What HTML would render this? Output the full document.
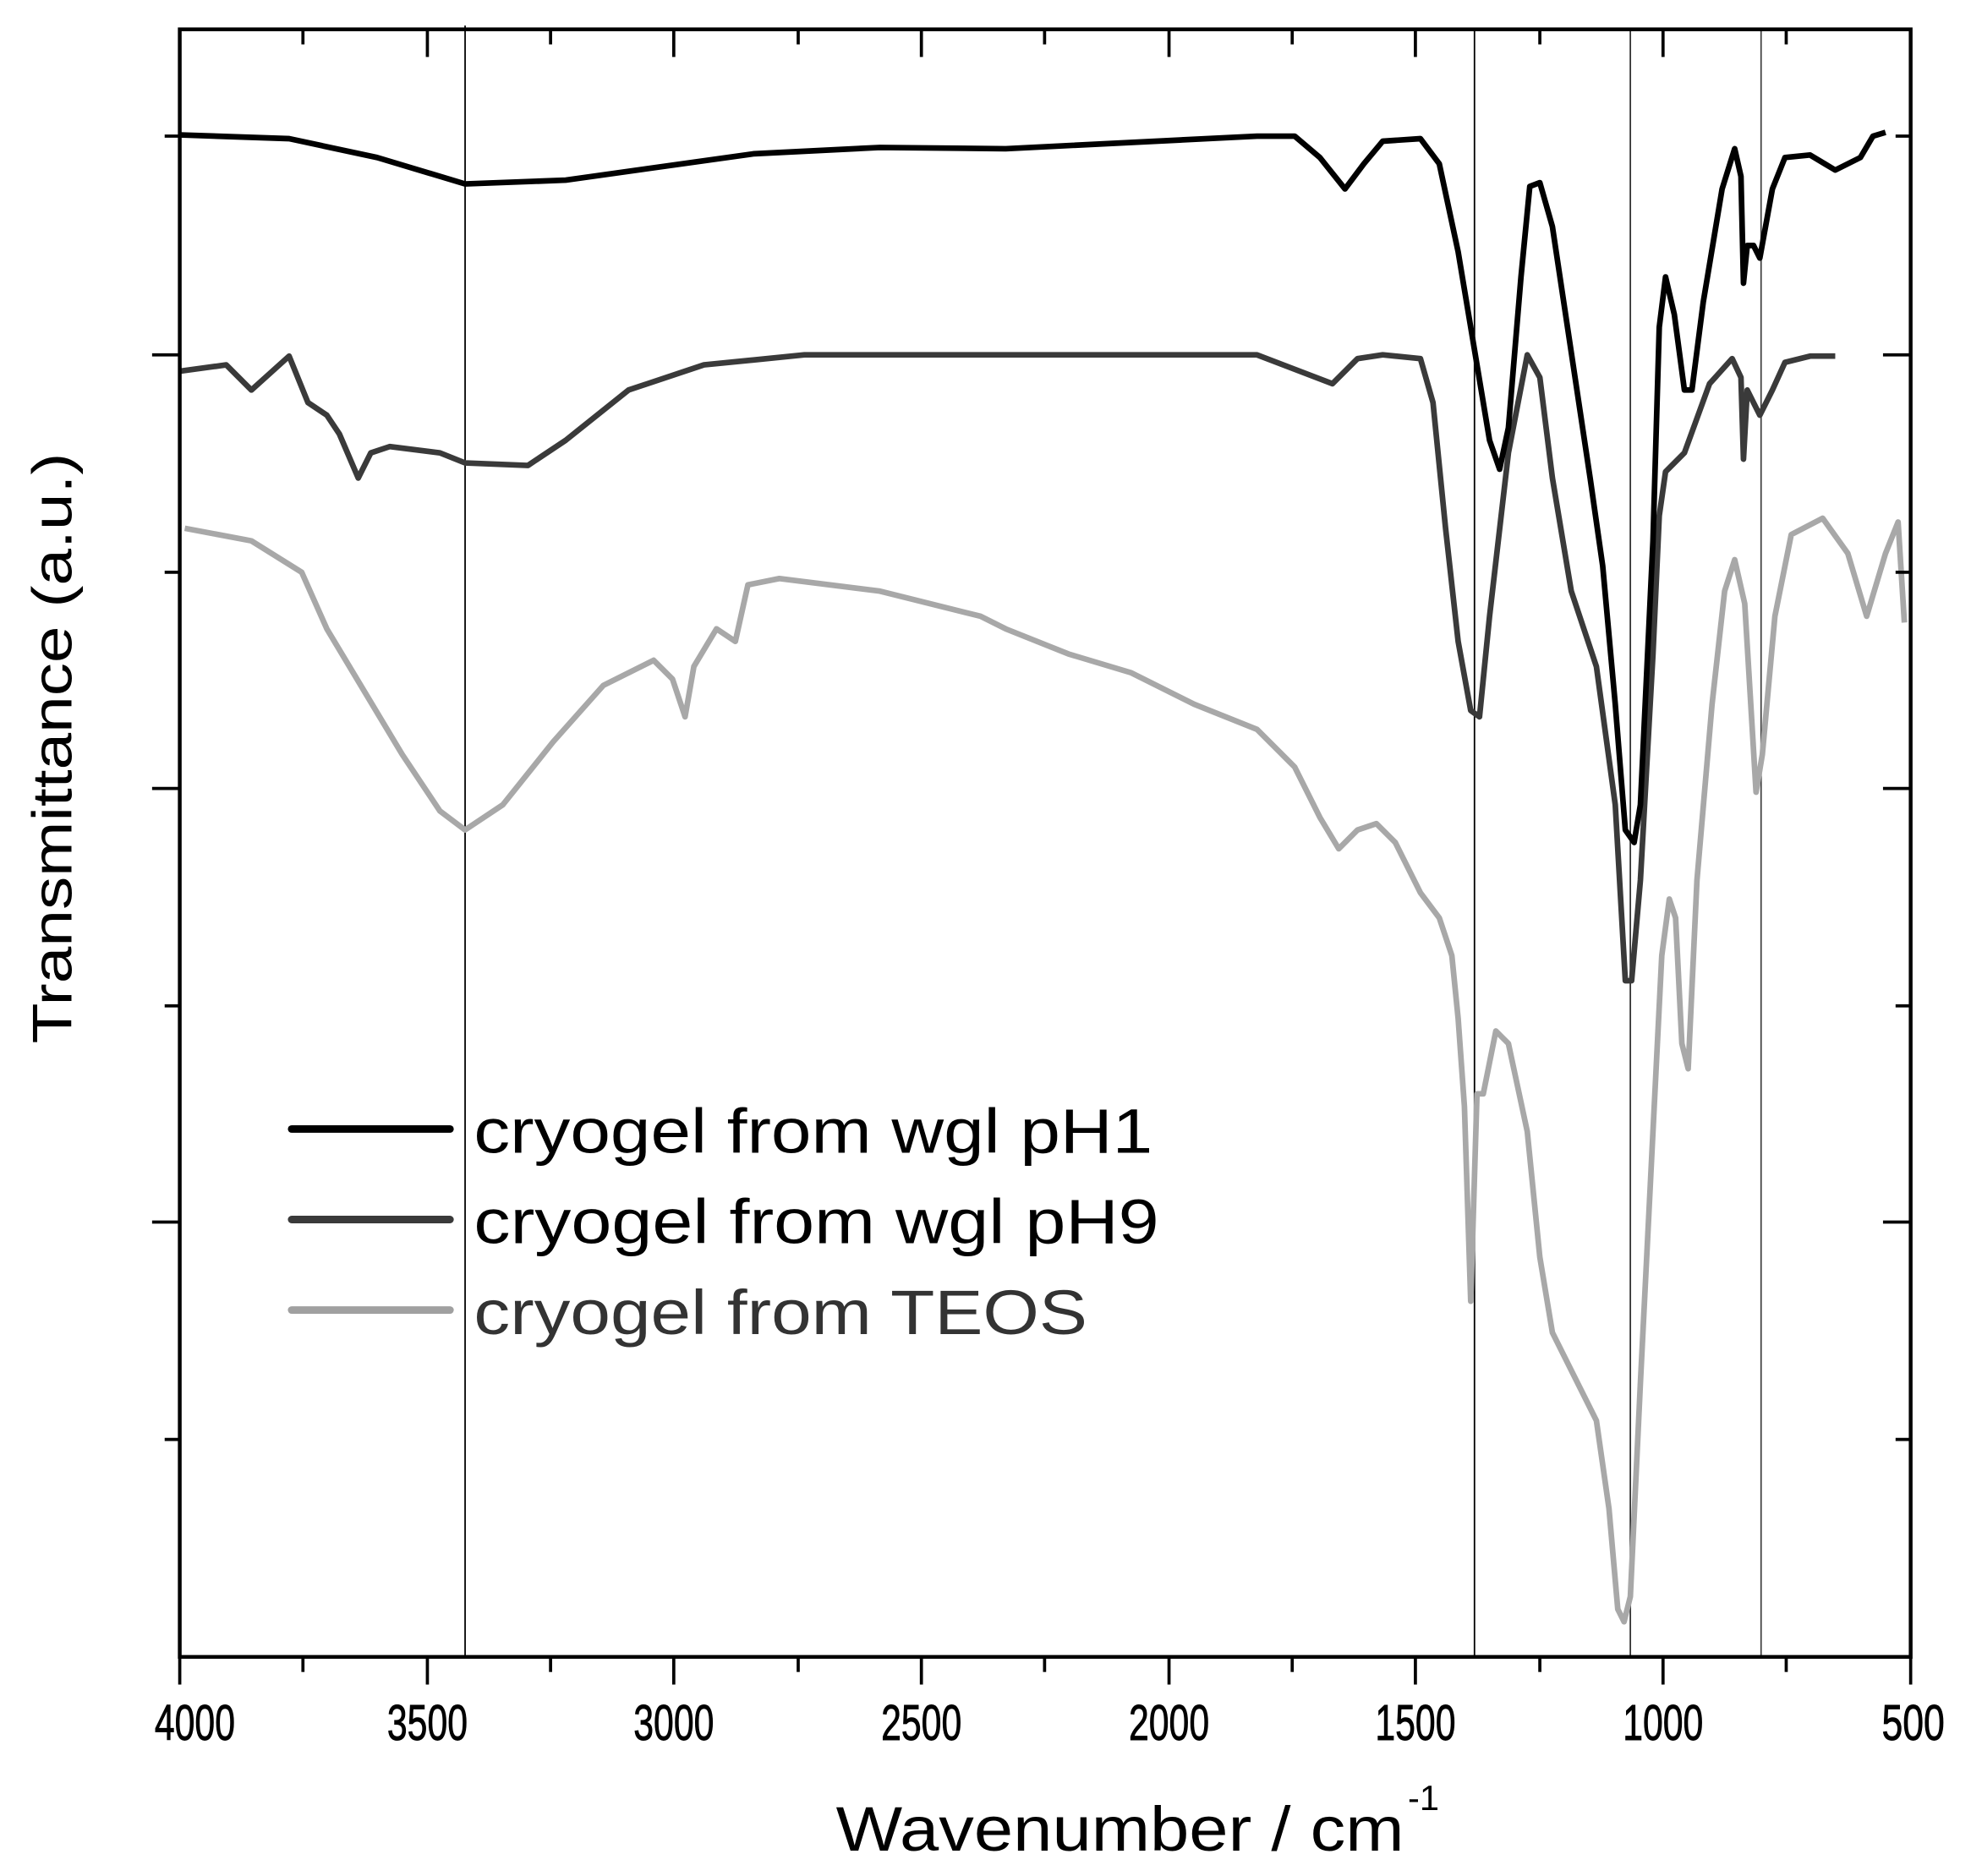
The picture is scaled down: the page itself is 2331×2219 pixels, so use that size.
<!DOCTYPE html>
<html><head><meta charset="utf-8"><style>html,body{margin:0;padding:0;background:#fff}svg{display:block}</style></head>
<body>
<svg width="2331" height="2219" viewBox="0 0 1568 1492" xmlns="http://www.w3.org/2000/svg" font-family="Liberation Sans, Arial, sans-serif">
<rect width="1568" height="1492" fill="#fff"/>
<g stroke="#000" stroke-width="1.2">
<line x1="370" y1="20" x2="370" y2="1318"/>
<line x1="1173" y1="23" x2="1173" y2="1318"/>
<line x1="1297" y1="23" x2="1297" y2="1318" stroke="#333"/>
<line x1="1401" y1="23" x2="1401" y2="1318" stroke="#444"/>
</g>
<polyline fill="none" stroke="#a8a8a8" stroke-width="4.5" stroke-linejoin="round" points="147,420 200,430 240,455 260,500 290,550 320,600 350,645 370,660 400,640 440,590 480,545 520,525 535,540 545,570 552,530 570,500 585,510 595,465 620,460 700,470 780,490 800,500 850,520 900,535 950,560 1000,580 1030,610 1050,650 1065,675 1080,660 1095,655 1110,670 1130,710 1145,730 1155,760 1160,810 1165,880 1170,1035 1175,870 1180,870 1190,820 1200,830 1215,900 1225,1000 1235,1060 1255,1100 1270,1130 1280,1200 1287,1280 1292,1290 1297,1270 1305,1100 1315,900 1322,760 1328,715 1333,730 1338,830 1343,850 1350,700 1362,560 1372,470 1380,445 1388,480 1397,630 1402,600 1412,490 1425,425 1450,412 1470,440 1485,490 1500,440 1510,415 1515,495"/>
<polyline fill="none" stroke="#3a3a3a" stroke-width="4.5" stroke-linejoin="round" points="143,295 180,290 200,310 230,283 245,320 260,330 270,345 285,380 295,360 310,355 350,360 370,368 420,370 450,350 500,310 560,290 640,282 800,282 1000,282 1060,305 1080,285 1100,282 1130,285 1140,320 1150,420 1160,510 1170,565 1177,570 1185,490 1200,360 1215,282 1225,300 1235,380 1250,470 1270,530 1285,640 1293,780 1298,780 1305,700 1315,520 1320,410 1325,375 1340,360 1360,305 1378,285 1385,300 1387,365 1390,310 1400,330 1410,310 1420,288 1440,283 1460,283"/>
<polyline fill="none" stroke="#000" stroke-width="4.5" stroke-linejoin="round" points="143,107 230,110 300,125 370,146 450,143 600,122 700,117 800,118 1000,108 1030,108 1050,125 1070,150 1085,130 1100,112 1130,110 1145,130 1160,200 1175,290 1185,350 1193,373 1200,340 1210,220 1217,148 1225,145 1235,180 1250,280 1265,380 1275,450 1285,560 1293,660 1300,670 1305,640 1315,430 1320,260 1325,220 1332,250 1340,310 1346,310 1355,240 1370,150 1380,118 1385,140 1387,225 1390,195 1395,195 1400,205 1410,150 1420,125 1440,123 1460,135 1480,125 1490,108 1500,105"/>
<rect x="143" y="23" width="1377" height="1295" fill="none" stroke="#000" stroke-width="3"/>
<g stroke="#000" stroke-width="2.5">
<line x1="143" y1="1318" x2="143" y2="1340"/><line x1="241" y1="1318" x2="241" y2="1330"/>
<line x1="340" y1="1318" x2="340" y2="1340"/><line x1="438" y1="1318" x2="438" y2="1330"/>
<line x1="536" y1="1318" x2="536" y2="1340"/><line x1="635" y1="1318" x2="635" y2="1330"/>
<line x1="733" y1="1318" x2="733" y2="1340"/><line x1="831" y1="1318" x2="831" y2="1330"/>
<line x1="930" y1="1318" x2="930" y2="1340"/><line x1="1028" y1="1318" x2="1028" y2="1330"/>
<line x1="1126" y1="1318" x2="1126" y2="1340"/><line x1="1225" y1="1318" x2="1225" y2="1330"/>
<line x1="1323" y1="1318" x2="1323" y2="1340"/><line x1="1421" y1="1318" x2="1421" y2="1330"/>
<line x1="1520" y1="1318" x2="1520" y2="1340"/>
<line x1="241" y1="23" x2="241" y2="35"/><line x1="340" y1="23" x2="340" y2="45"/>
<line x1="438" y1="23" x2="438" y2="35"/><line x1="536" y1="23" x2="536" y2="45"/>
<line x1="635" y1="23" x2="635" y2="35"/><line x1="733" y1="23" x2="733" y2="45"/>
<line x1="831" y1="23" x2="831" y2="35"/><line x1="930" y1="23" x2="930" y2="45"/>
<line x1="1028" y1="23" x2="1028" y2="35"/><line x1="1126" y1="23" x2="1126" y2="45"/>
<line x1="1225" y1="23" x2="1225" y2="35"/><line x1="1323" y1="23" x2="1323" y2="45"/>
<line x1="1421" y1="23" x2="1421" y2="35"/>
<line x1="131" y1="108" x2="143" y2="108"/><line x1="121" y1="282" x2="143" y2="282"/>
<line x1="131" y1="455" x2="143" y2="455"/><line x1="121" y1="627" x2="143" y2="627"/>
<line x1="131" y1="800" x2="143" y2="800"/><line x1="121" y1="972" x2="143" y2="972"/>
<line x1="131" y1="1145" x2="143" y2="1145"/>
<line x1="1508" y1="108" x2="1520" y2="108"/><line x1="1498" y1="282" x2="1520" y2="282"/>
<line x1="1508" y1="455" x2="1520" y2="455"/><line x1="1498" y1="627" x2="1520" y2="627"/>
<line x1="1508" y1="800" x2="1520" y2="800"/><line x1="1498" y1="972" x2="1520" y2="972"/>
<line x1="1508" y1="1145" x2="1520" y2="1145"/>
</g>
<g font-size="40" text-anchor="middle" fill="#000" stroke="#000" stroke-width="0.6">
<text x="155" y="1384" textLength="64" lengthAdjust="spacingAndGlyphs">4000</text>
<text x="340" y="1384" textLength="64" lengthAdjust="spacingAndGlyphs">3500</text>
<text x="536" y="1384" textLength="64" lengthAdjust="spacingAndGlyphs">3000</text>
<text x="733" y="1384" textLength="64" lengthAdjust="spacingAndGlyphs">2500</text>
<text x="930" y="1384" textLength="64" lengthAdjust="spacingAndGlyphs">2000</text>
<text x="1126" y="1384" textLength="64" lengthAdjust="spacingAndGlyphs">1500</text>
<text x="1323" y="1384" textLength="64" lengthAdjust="spacingAndGlyphs">1000</text>
<text x="1522" y="1384" textLength="50" lengthAdjust="spacingAndGlyphs">500</text>
</g>
<text x="665" y="1472" font-size="50" textLength="452" lengthAdjust="spacingAndGlyphs">Wavenumber  / cm</text>
<text x="1120" y="1440" font-size="28">-1</text>
<text transform="translate(57,595) rotate(-90)" text-anchor="middle" font-size="44" textLength="470" lengthAdjust="spacingAndGlyphs">Transmittance (a.u.)</text>
<line x1="232" y1="898" x2="358" y2="898" stroke="#000" stroke-width="6" stroke-linecap="round"/>
<line x1="232" y1="970" x2="358" y2="970" stroke="#3a3a3a" stroke-width="6" stroke-linecap="round"/>
<line x1="232" y1="1042" x2="358" y2="1042" stroke="#a0a0a0" stroke-width="6" stroke-linecap="round"/>
<g font-size="50">
<text x="377" y="917" textLength="540" lengthAdjust="spacingAndGlyphs" fill="#000">cryogel from wgl pH1</text>
<text x="377" y="989" textLength="545" lengthAdjust="spacingAndGlyphs" fill="#000">cryogel from wgl pH9</text>
<text x="377" y="1061" textLength="488" lengthAdjust="spacingAndGlyphs" fill="#333">cryogel from TEOS</text>
</g>
</svg>
</body></html>
